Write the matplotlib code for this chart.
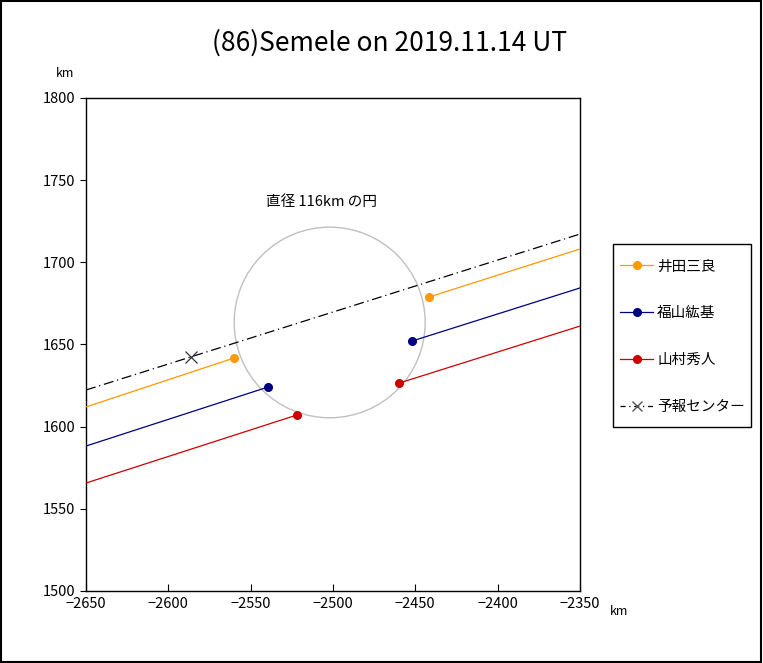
import matplotlib
matplotlib.use("Agg")
import matplotlib.pyplot as plt
from matplotlib.patches import Circle, Rectangle
from matplotlib.lines import Line2D

plt.rcParams['font.family'] = ['Noto Sans CJK JP', 'DejaVu Sans']

title = "(86)Semele on 2019.11.14 UT"
x_range = [-2650, -2350]
y_range = [1500, 1800]
x_ticks = [-2650, -2600, -2550, -2500, -2450, -2400, -2350]
y_ticks = [1500, 1550, 1600, 1650, 1700, 1750, 1800]

# observer chords: left and right segments (x, y end points)
obs_names = ["井田三良", "福山紘基", "山村秀人"]
obs_colors = ["#FF9900", "#000080", "#CC0000"]
obs_left_x = [[-2650, -2560.0], [-2650, -2539.5], [-2650, -2521.9]]
obs_left_y = [[1612.0, 1641.8], [1588.2, 1624.1], [1565.7, 1607.1]]
obs_right_x = [[-2441.7, -2350], [-2452.0, -2350], [-2459.9, -2350]]
obs_right_y = [[1678.9, 1708.1], [1652.1, 1684.4], [1626.5, 1661.2]]

pred_name = "予報センター"
pred_x = [-2650, -2350]
pred_y = [1622.3, 1717.2]
pred_center_x = -2586.2
pred_center_y = 1642.4

circle_cx = -2502.0
circle_cy = 1663.4
circle_diam = 116
circle_label = "直径 116km の円"

fig = plt.figure(figsize=(7.63, 6.63), dpi=100)
ax = fig.add_axes([0.1127, 0.1086, 0.6474, 0.7436])

for i in range(3):
    ax.plot(obs_left_x[i], obs_left_y[i], color=obs_colors[i], lw=0.9, zorder=3)
    ax.plot(obs_right_x[i], obs_right_y[i], color=obs_colors[i], lw=0.9, zorder=3)
    ax.plot([obs_left_x[i][1], obs_right_x[i][0]], [obs_left_y[i][1], obs_right_y[i][0]],
            ls='none', marker='o', ms=5.5, color=obs_colors[i], zorder=4)

ax.plot(pred_x, pred_y, color='black', lw=0.9, ls=(0, (8, 3, 1, 3)), zorder=3)
ax.plot([pred_center_x], [pred_center_y], marker='x', ms=8, color='#333333', mew=0.9, zorder=4)

circ = Circle((circle_cx, circle_cy), circle_diam / 2, fill=False, ec='#C0C0C0', lw=1.0, zorder=2)
ax.add_patch(circ)
ax.text(-2507, 1737, circle_label, fontsize=10.5, ha='center', va='center')

ax.set_xlim(x_range)
ax.set_ylim(y_range)
ax.set_xticks(x_ticks)
ax.set_yticks(y_ticks)
ax.tick_params(axis='x', direction='in', length=5, labelsize=10.5, pad=4)
ax.tick_params(axis='y', direction='out', length=4, labelsize=10.5)
for s in ax.spines.values():
    s.set_linewidth(1.0)

fig.text(0.511, 0.935, title, fontsize=19, ha='center', va='center')
fig.text(0.085, 0.889, "km", fontsize=9, ha='center', va='center')
fig.text(0.812, 0.077, "km", fontsize=9, ha='center', va='center')

handles = []
for i in range(3):
    handles.append(Line2D([], [], color=obs_colors[i], lw=0.9, marker='o', ms=5.5))
handles.append(Line2D([], [], color='black', lw=0.9, ls=(0, (4, 3, 1, 3)), marker='x',
                      ms=7, mec='#555555'))
labels = obs_names + [pred_name]
leg = fig.legend(handles, labels, loc='center', bbox_to_anchor=(0.8945, 0.492),
                 frameon=False, fontsize=10.5,
                 labelspacing=2.25, handlelength=2.25, handletextpad=0.27,
                 borderpad=0.0, borderaxespad=0)

fig.patches.append(Rectangle((0.8034, 0.3560), 0.1809, 0.2760, transform=fig.transFigure,
                             fill=False, ec='black', lw=1.0))
fig.patches.append(Rectangle((0.001, 0.001), 0.997, 0.997, transform=fig.transFigure,
                             fill=False, ec='black', lw=1.5))

fig.savefig("out.png", dpi=100)
